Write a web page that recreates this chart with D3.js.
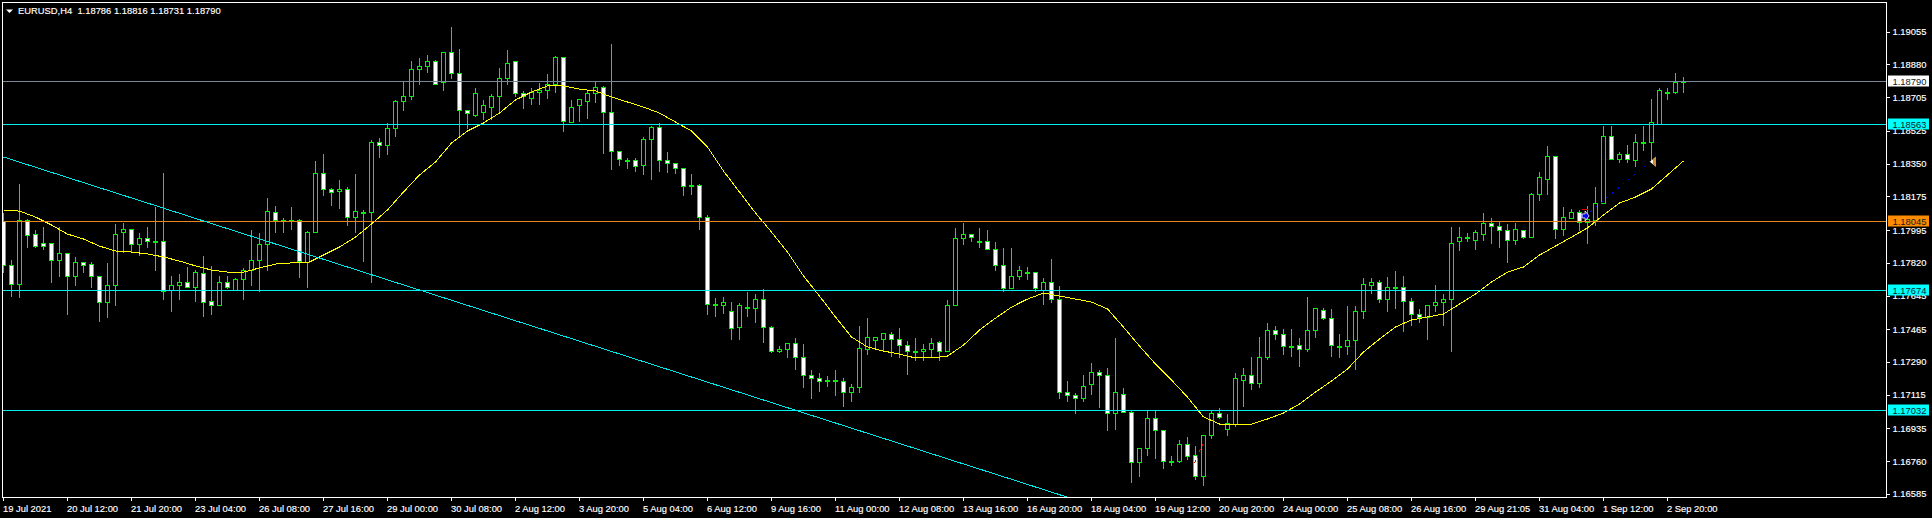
<!DOCTYPE html>
<html>
<head>
<meta charset="utf-8">
<title>EURUSD,H4</title>
<script src="https://cdn.jsdelivr.net/npm/d3@7"></script>
<style>
  html, body { margin: 0; padding: 0; background: #000; overflow: hidden; }
  svg { display: block; }
  text { font-family: "Liberation Sans", Arial, sans-serif; font-size: 9.4px; fill: #fff; stroke: #fff; stroke-width: 0.15px; white-space: pre; }
</style>
</head>
<body>
<div id="chart"></div>
<script>
// H4 bars, left to right
const opens = [
  1.18046,1.17806,1.17709,1.18051,1.17976,1.17928,1.17928,1.17833,1.17875,1.17747,
  1.17822,1.17816,1.17747,1.17613,1.17704,1.17982,1.17998,1.17923,1.17955,1.17934,
  1.17934,1.17672,1.17699,1.17720,1.17693,1.17768,1.17618,1.17597,1.17715,1.17677,
  1.17731,1.17784,1.17833,1.17923,1.18094,1.18046,1.18051,1.18051,1.17822,1.17982,
  1.18298,1.18212,1.18206,1.18212,1.18067,1.18089,1.18089,1.18468,1.18452,1.18538,
  1.18682,1.18709,1.18853,1.18874,1.18896,1.18784,1.18949,1.18832,1.18634,1.18612,
  1.18628,1.18655,1.18709,1.18810,1.18896,1.18725,1.18703,1.18735,1.18741,1.18778,
  1.18922,1.18575,1.18661,1.18682,1.18725,1.18762,1.18628,1.18420,1.18372,1.18372,
  1.18340,1.18484,1.18548,1.18367,1.18356,1.18329,1.18228,1.18238,1.18067,1.17602,
  1.17592,1.17560,1.17479,1.17586,1.17576,1.17624,1.17479,1.17351,1.17357,1.17389,
  1.17319,1.17223,1.17207,1.17196,1.17196,1.17186,1.17127,1.17154,1.17362,1.17410,
  1.17415,1.17442,1.17415,1.17383,1.17351,1.17351,1.17357,1.17399,1.17346,1.17592,
  1.17955,1.17976,1.17939,1.17939,1.17896,1.17806,1.17683,1.17752,1.17773,1.17773,
  1.17677,1.17720,1.17624,1.17127,1.17116,1.17095,1.17170,1.17239,1.17218,1.17015,
  1.17121,1.17025,1.16753,1.16828,1.16993,1.16929,1.16763,1.16763,1.16854,1.16795,
  1.16683,1.16902,1.17020,1.16934,1.16961,1.17196,1.17223,1.17180,1.17314,1.17463,
  1.17437,1.17378,1.17383,1.17357,1.17463,1.17570,1.17527,1.17378,1.17378,1.17410,
  1.17560,1.17704,1.17715,1.17629,1.17693,1.17693,1.17618,1.17544,1.17533,1.17592,
  1.17613,1.17629,1.17934,1.17960,1.17944,1.17976,1.18035,1.18019,1.17993,1.17944,
  1.17993,1.17960,1.18190,1.18270,1.18393,1.17998,1.18062,1.18094,1.18040,1.18051,
  1.18137,1.18495,1.18377,1.18404,1.18372,1.18468,1.18463,1.18564,1.18735,1.18735,
  1.18786
];
const highs = [
  1.18089,1.17838,1.18244,1.18062,1.18003,1.18019,1.17928,1.18019,1.17880,1.17859,
  1.17827,1.17827,1.17757,1.17822,1.18035,1.18040,1.17998,1.17982,1.18019,1.18126,
  1.18303,1.17757,1.17763,1.17801,1.17789,1.17864,1.17806,1.17757,1.17757,1.17742,
  1.17795,1.17998,1.17987,1.18169,1.18131,1.18067,1.18121,1.18062,1.17993,1.18367,
  1.18409,1.18223,1.18270,1.18228,1.18298,1.18110,1.18484,1.18490,1.18575,1.18693,
  1.18795,1.18906,1.18922,1.18938,1.18911,1.18949,1.19083,1.18970,1.18634,1.18762,
  1.18693,1.18725,1.18869,1.18965,1.18896,1.18746,1.18757,1.18784,1.18832,1.18928,
  1.18922,1.18693,1.18698,1.18751,1.18795,1.18768,1.18992,1.18425,1.18388,1.18388,
  1.18495,1.18559,1.18570,1.18415,1.18356,1.18329,1.18298,1.18244,1.18083,1.17635,
  1.17645,1.17618,1.17608,1.17667,1.17656,1.17688,1.17485,1.17383,1.17399,1.17426,
  1.17389,1.17250,1.17234,1.17223,1.17255,1.17212,1.17180,1.17490,1.17533,1.17426,
  1.17447,1.17458,1.17479,1.17410,1.17426,1.17389,1.17421,1.17410,1.17629,1.18009,
  1.18040,1.17976,1.18009,1.18003,1.17939,1.17907,1.17902,1.17806,1.17801,1.17773,
  1.17742,1.17843,1.17704,1.17196,1.17132,1.17228,1.17292,1.17250,1.17261,1.17426,
  1.17154,1.17031,1.16838,1.17031,1.17041,1.16934,1.16795,1.16876,1.16892,1.16844,
  1.16902,1.17041,1.17047,1.17015,1.17234,1.17261,1.17324,1.17431,1.17501,1.17485,
  1.17474,1.17469,1.17421,1.17645,1.17576,1.17586,1.17576,1.17447,1.17592,1.17597,
  1.17742,1.17742,1.17736,1.17747,1.17784,1.17757,1.17635,1.17576,1.17597,1.17709,
  1.17661,1.18019,1.18014,1.17982,1.18003,1.18094,1.18067,1.18051,1.18035,1.18040,
  1.17998,1.18196,1.18313,1.18447,1.18393,1.18126,1.18115,1.18110,1.18131,1.18233,
  1.18559,1.18559,1.18420,1.18457,1.18511,1.18554,1.18703,1.18757,1.18757,1.18837,
  1.18816
];
const lows = [
  1.17773,1.17645,1.17635,1.17902,1.17907,1.17896,1.17715,1.17752,1.17549,1.17704,
  1.17773,1.17693,1.17511,1.17533,1.17592,1.17880,1.17880,1.17864,1.17902,1.17784,
  1.17629,1.17565,1.17629,1.17693,1.17618,1.17538,1.17544,1.17597,1.17683,1.17677,
  1.17624,1.17699,1.17667,1.17784,1.17982,1.17982,1.17998,1.17742,1.17693,1.17982,
  1.18180,1.18131,1.18115,1.18024,1.17987,1.17827,1.17715,1.18388,1.18399,1.18495,
  1.18639,1.18698,1.18778,1.18837,1.18773,1.18741,1.18810,1.18505,1.18538,1.18602,
  1.18591,1.18586,1.18628,1.18773,1.18709,1.18645,1.18671,1.18671,1.18703,1.18735,
  1.18527,1.18570,1.18580,1.18596,1.18677,1.18409,1.18319,1.18345,1.18329,1.18308,
  1.18292,1.18270,1.18313,1.18303,1.18298,1.18180,1.18185,1.17998,1.17544,1.17538,
  1.17554,1.17415,1.17415,1.17538,1.17501,1.17399,1.17341,1.17341,1.17314,1.17255,
  1.17154,1.17095,1.17137,1.17159,1.17111,1.17057,1.17079,1.17127,1.17335,1.17357,
  1.17346,1.17324,1.17314,1.17228,1.17298,1.17298,1.17324,1.17303,1.17346,1.17592,
  1.17923,1.17939,1.17907,1.17896,1.17779,1.17667,1.17683,1.17731,1.17736,1.17667,
  1.17602,1.17608,1.17095,1.17079,1.17015,1.17079,1.17121,1.17052,1.16929,1.16934,
  1.17025,1.16651,1.16683,1.16795,1.16779,1.16721,1.16742,1.16758,1.16769,1.16667,
  1.16635,1.16886,1.16988,1.16902,1.16950,1.17057,1.17148,1.17154,1.17308,1.17415,
  1.17335,1.17324,1.17266,1.17351,1.17421,1.17522,1.17324,1.17314,1.17330,1.17255,
  1.17527,1.17661,1.17608,1.17560,1.17576,1.17453,1.17485,1.17506,1.17415,1.17565,
  1.17490,1.17346,1.17886,1.17934,1.17896,1.17944,1.17928,1.17902,1.17822,1.17923,
  1.17950,1.17960,1.18158,1.18190,1.17955,1.17971,1.18062,1.17993,1.17928,1.18024,
  1.18137,1.18377,1.18361,1.18361,1.18335,1.18425,1.18367,1.18564,1.18693,1.18730,
  1.18731
];
const closes = [
  1.17806,1.17709,1.18051,1.17971,1.17912,1.17912,1.17833,1.17875,1.17747,1.17822,
  1.17806,1.17747,1.17613,1.17704,1.17976,1.17998,1.17923,1.17955,1.17934,1.17934,
  1.17667,1.17699,1.17720,1.17693,1.17773,1.17613,1.17597,1.17720,1.17693,1.17731,
  1.17784,1.17833,1.17923,1.18099,1.18051,1.18051,1.18051,1.17827,1.17982,1.18298,
  1.18212,1.18201,1.18212,1.18067,1.18099,1.18089,1.18468,1.18452,1.18538,1.18682,
  1.18709,1.18853,1.18874,1.18901,1.18773,1.18949,1.18832,1.18634,1.18618,1.18725,
  1.18661,1.18709,1.18810,1.18890,1.18725,1.18709,1.18735,1.18741,1.18773,1.18922,
  1.18580,1.18655,1.18693,1.18730,1.18762,1.18628,1.18415,1.18377,1.18372,1.18335,
  1.18484,1.18548,1.18367,1.18356,1.18329,1.18228,1.18238,1.18067,1.17602,1.17592,
  1.17613,1.17474,1.17592,1.17576,1.17624,1.17479,1.17351,1.17362,1.17389,1.17314,
  1.17223,1.17202,1.17186,1.17186,1.17186,1.17127,1.17154,1.17367,1.17421,1.17421,
  1.17447,1.17415,1.17383,1.17346,1.17351,1.17357,1.17394,1.17346,1.17592,1.17950,
  1.17976,1.17960,1.17939,1.17896,1.17806,1.17683,1.17747,1.17779,1.17773,1.17683,
  1.17720,1.17624,1.17132,1.17116,1.17095,1.17164,1.17239,1.17218,1.17015,1.17127,
  1.17025,1.16753,1.16828,1.16993,1.16929,1.16763,1.16763,1.16854,1.16790,1.16683,
  1.16902,1.17020,1.16998,1.16966,1.17202,1.17223,1.17180,1.17314,1.17463,1.17442,
  1.17378,1.17378,1.17362,1.17463,1.17576,1.17527,1.17383,1.17378,1.17405,1.17565,
  1.17709,1.17715,1.17629,1.17693,1.17693,1.17618,1.17549,1.17533,1.17597,1.17613,
  1.17624,1.17928,1.17960,1.17960,1.17982,1.18035,1.18019,1.17993,1.17944,1.17998,
  1.17960,1.18190,1.18276,1.18393,1.17998,1.18067,1.18094,1.18040,1.18056,1.18137,
  1.18495,1.18377,1.18404,1.18377,1.18468,1.18468,1.18570,1.18741,1.18735,1.18784,
  1.18790
];

// moving average read every 2nd bar, bars 0, 2, 4 ... 210
const maBars = d3.range(0, 211, 2);
const maValues = [
  1.18105,1.18099,1.18067,1.18025,1.17976,1.17950,1.17912,1.17886,1.17880,1.17870,
  1.17854,1.17832,1.17806,1.17784,1.17773,1.17773,1.17795,1.17816,1.17822,1.17822,
  1.17864,1.17907,1.17960,1.18030,1.18105,1.18201,1.18292,1.18361,1.18463,1.18527,
  1.18570,1.18623,1.18693,1.18735,1.18768,1.18768,1.18751,1.18741,1.18709,1.18682,
  1.18655,1.18623,1.18575,1.18527,1.18441,1.18313,1.18201,1.18089,1.17987,1.17880,
  1.17752,1.17645,1.17533,1.17426,1.17373,1.17351,1.17335,1.17314,1.17314,1.17324,
  1.17383,1.17463,1.17527,1.17586,1.17629,1.17661,1.17645,1.17629,1.17613,1.17576,
  1.17479,1.17378,1.17282,1.17196,1.17105,1.16999,1.16961,1.16961,1.16961,1.16988,
  1.17020,1.17068,1.17132,1.17191,1.17255,1.17346,1.17415,1.17480,1.17517,1.17533,
  1.17549,1.17602,1.17656,1.17720,1.17773,1.17800,1.17864,1.17912,1.17960,1.18009,
  1.18078,1.18142,1.18174,1.18217,1.18292,1.18367
];

const trendBars = [0, 133];
const trendPrices = [1.18388, 1.16570];

const timeTickBars = d3.range(0, 209, 8);
const timeLabels = [
  '19 Jul 2021','20 Jul 12:00','21 Jul 20:00','23 Jul 04:00','26 Jul 08:00','27 Jul 16:00',
  '29 Jul 00:00','30 Jul 08:00','2 Aug 12:00','3 Aug 20:00','5 Aug 04:00','6 Aug 12:00',
  '9 Aug 16:00','11 Aug 00:00','12 Aug 08:00','13 Aug 16:00','16 Aug 20:00','18 Aug 04:00',
  '19 Aug 12:00','20 Aug 20:00','24 Aug 00:00','25 Aug 08:00','26 Aug 16:00','29 Aug 21:05',
  '31 Aug 04:00','1 Sep 12:00','2 Sep 20:00'
];
const priceTicks = [
  1.19055,1.18880,1.18705,1.18525,1.18350,1.18175,1.17995,1.17820,
  1.17645,1.17465,1.17290,1.17115,1.16935,1.16760,1.16585
];

const levelPrices = [1.18790, 1.18563, 1.18045, 1.17674, 1.17032];
const levelColors = ['#778899', '#00f0f0', '#e8871e', '#00f0f0', '#00f0f0'];
const levelFlagColors = ['#ffffff', '#00ffff', '#ff8c00', '#00ffff', '#00ffff'];

// trade marks: closed position on the right, old dashed one inside the 19 Aug bars
const tradeBars = [197.7, 205.8];
const tradePrices = [1.18073, 1.18363];
const stopBars = [197.3, 198.1];
const stopPrices = [1.18110, 1.18110];
const oldTradeBars = [148.9, 149.9];
const oldTradePrices = [1.16753, 1.16854];

const width = 1932;
const height = 518;
const plot = { left: 3, right: 1886, top: 3, bottom: 497 };
const green = '#0cec0c';

const x = d3.scaleLinear().domain([0, 210]).range([3.5, 1683.5]);
const y = d3.scaleLinear().domain([1.19055, 1.16585]).range([32.2, 494.4]);
const snap = v => Math.floor(v) + 0.5;

const svg = d3.select('#chart').append('svg')
  .attr('width', width)
  .attr('height', height);

svg.append('defs').append('clipPath')
  .attr('id', 'plot-clip')
  .append('rect')
  .attr('x', plot.left)
  .attr('y', plot.top)
  .attr('width', plot.right - plot.left)
  .attr('height', plot.bottom - plot.top);

const g = svg.append('g').attr('clip-path', 'url(#plot-clip)');

// candles
const candles = g.selectAll('.candle')
  .data(opens)
  .enter()
  .append('g')
  .attr('class', 'candle');

candles.append('line')
  .attr('x1', (d, i) => x(i))
  .attr('x2', (d, i) => x(i))
  .attr('y1', (d, i) => snap(y(highs[i])))
  .attr('y2', (d, i) => snap(y(lows[i])))
  .attr('stroke', green)
  .attr('shape-rendering', 'crispEdges');

candles.append('rect')
  .attr('x', (d, i) => x(i) - 2)
  .attr('width', 4)
  .attr('y', (d, i) => snap(y(Math.max(d, closes[i]))))
  .attr('height', (d, i) => {
    const top = snap(y(Math.max(d, closes[i])));
    const bottom = snap(y(Math.min(d, closes[i])));
    return Math.max(1, bottom - top);
  })
  .attr('fill', (d, i) => {
    const top = snap(y(Math.max(d, closes[i])));
    const bottom = snap(y(Math.min(d, closes[i])));
    if (bottom - top <= 1) return green;
    return closes[i] < d ? '#ffffff' : '#000000';
  })
  .attr('stroke', green)
  .attr('shape-rendering', 'crispEdges');

// moving average
const maLine = d3.line()
  .x((d, i) => x(maBars[i]))
  .y(d => y(d));

g.append('path')
  .datum(maValues)
  .attr('d', maLine)
  .attr('fill', 'none')
  .attr('stroke', '#ffff00')
  .attr('stroke-width', 1)
  .attr('shape-rendering', 'crispEdges');

// horizontal levels and the falling trend line
g.selectAll('.level')
  .data(levelPrices)
  .enter()
  .append('line')
  .attr('class', 'level')
  .attr('x1', plot.left)
  .attr('x2', plot.right)
  .attr('y1', d => snap(y(d)))
  .attr('y2', d => snap(y(d)))
  .attr('stroke', (d, i) => levelColors[i])
  .attr('shape-rendering', 'crispEdges');

g.append('path')
  .datum(trendPrices)
  .attr('d', d3.line().x((d, i) => x(trendBars[i])).y(d => y(d)))
  .attr('fill', 'none')
  .attr('stroke', '#00e6e6')
  .attr('shape-rendering', 'crispEdges');

// trade marks
g.append('path')
  .datum(tradePrices)
  .attr('d', d3.line().x((d, i) => x(tradeBars[i])).y(d => y(d)))
  .attr('fill', 'none')
  .attr('stroke', '#0000e0')
  .attr('stroke-dasharray', '2,5')
  .attr('shape-rendering', 'crispEdges');

g.append('path')
  .datum(oldTradePrices)
  .attr('d', d3.line().x((d, i) => x(oldTradeBars[i])).y(d => y(d)))
  .attr('fill', 'none')
  .attr('stroke', '#e00000')
  .attr('stroke-dasharray', '3,3')
  .attr('shape-rendering', 'crispEdges');

g.append('path')
  .datum(stopPrices)
  .attr('d', d3.line().x((d, i) => x(stopBars[i])).y(d => y(d)))
  .attr('fill', 'none')
  .attr('stroke', '#e00000')
  .attr('shape-rendering', 'crispEdges');

// blue entry arrow
g.append('path')
  .attr('transform', `translate(${x(tradeBars[0])},${y(tradePrices[0])})`)
  .attr('d', 'M-3,-2 L0,-2 L0,-5 L4,0 L0,5 L0,2 L-3,2 Z')
  .attr('fill', '#0000ff')
  .attr('stroke', '#ffffff')
  .attr('stroke-width', 0.8);

// exit triangle
const exitMark = g.append('g')
  .attr('transform', `translate(${x(tradeBars[1])},${y(tradePrices[1])})`);
exitMark.append('path').attr('d', 'M0,0 L6,-5 L6,5 Z').attr('fill', '#ffffff');
exitMark.append('path').attr('d', 'M3,-2.5 L6,-5 L6,5 L3,2.5 Z').attr('fill', '#d08a2a');

// frame
svg.append('rect')
  .attr('x', plot.left - 0.5)
  .attr('y', plot.top - 0.5)
  .attr('width', plot.right - plot.left + 1)
  .attr('height', plot.bottom - plot.top + 1)
  .attr('fill', 'none')
  .attr('stroke', '#ffffff')
  .attr('shape-rendering', 'crispEdges');

// axes
const xAxis = d3.axisBottom(x)
  .tickValues(timeTickBars)
  .tickFormat((d, i) => timeLabels[i])
  .tickSize(3)
  .tickPadding(3)
  .offset(0);

const xAxisG = svg.append('g')
  .attr('transform', `translate(0,${plot.bottom + 0.5})`)
  .call(xAxis);
xAxisG.select('.domain').remove();
xAxisG.selectAll('line').attr('stroke', '#ffffff').attr('shape-rendering', 'crispEdges');
xAxisG.selectAll('text')
  .attr('text-anchor', 'start')
  .attr('x', -0.5)
  .attr('y', 8);
xAxisG.attr('font-family', null).attr('font-size', null);

const yAxis = d3.axisRight(y)
  .tickValues(priceTicks)
  .tickFormat(d3.format('.5f'))
  .tickSize(3)
  .tickPadding(3)
  .offset(0);

const yAxisG = svg.append('g')
  .attr('transform', `translate(${plot.right + 0.5},0)`)
  .call(yAxis);
yAxisG.select('.domain').remove();
yAxisG.selectAll('line').attr('stroke', '#ffffff').attr('shape-rendering', 'crispEdges');
yAxisG.attr('font-family', null).attr('font-size', null);

// price flags on the axis
const flags = svg.selectAll('.flag')
  .data(levelPrices)
  .enter()
  .append('g')
  .attr('class', 'flag')
  .attr('transform', d => `translate(1888,${snap(y(d))})`);

flags.append('rect')
  .attr('x', 0)
  .attr('y', -6)
  .attr('width', 41)
  .attr('height', 11)
  .attr('fill', (d, i) => levelFlagColors[i]);

flags.append('text')
  .attr('x', 4.5)
  .attr('y', 3)
  .style('fill', '#10202a')
  .style('stroke', 'none')
  .text(d => d.toFixed(5));

// header
svg.append('path')
  .attr('d', 'M6,9.5 L13,9.5 L9.5,13 Z')
  .attr('fill', '#ffffff');

svg.append('text')
  .attr('x', 18)
  .attr('y', 14)
  .text('EURUSD,H4  1.18786 1.18816 1.18731 1.18790');
</script>
</body>
</html>
